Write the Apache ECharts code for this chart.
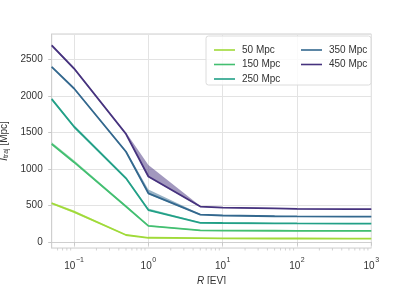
<!DOCTYPE html>
<html><head><meta charset="utf-8">
<script src="https://cdn.jsdelivr.net/npm/echarts@6/dist/echarts.min.js"></script>
<style>html,body{margin:0;padding:0;background:#fff}#c{width:413px;height:284px}</style>
</head><body><div id="c"></div>
<script>
// ---- data ----
const R = [0.05, 0.1, 0.5, 1, 5, 10, 50, 100, 500, 1000];
const names = ['50 Mpc', '150 Mpc', '250 Mpc', '350 Mpc', '450 Mpc'];
const mean50  = [533, 415, 98, 60, 54, 52, 50, 50, 49, 49];
const lo50    = [520, 400, 92, 56, 51, 49, 48, 48, 47, 47];
const hi50    = [548, 432, 106, 64, 56, 54, 52, 51, 51, 51];
const mean150 = [1343, 1095, 488, 223, 162, 158, 156, 155, 155, 154];
const lo150   = [1330, 1080, 478, 216, 156, 153, 152, 151, 151, 151];
const hi150   = [1368, 1122, 502, 232, 167, 162, 159, 157, 156, 156];
const mean250 = [1958, 1580, 874, 440, 265, 262, 258, 256, 255, 254];
const lo250   = [1945, 1565, 862, 432, 258, 256, 254, 252, 252, 252];
const hi250   = [1978, 1602, 892, 462, 273, 268, 262, 259, 257, 256];
const mean350 = [2399, 2104, 1238, 669, 377, 365, 355, 352, 350, 350];
const lo350   = [2390, 2095, 1225, 655, 370, 360, 350, 348, 347, 347];
const hi350   = [2410, 2115, 1255, 722, 386, 372, 360, 356, 353, 353];
const mean450 = [2695, 2377, 1480, 899, 487, 474, 462, 456, 452, 451];
const lo450   = [2680, 2365, 1470, 890, 480, 468, 458, 452, 449, 448];
const hi450   = [2710, 2395, 1500, 1055, 496, 481, 467, 460, 455, 454];
const yTicks = [0, 500, 1000, 1500, 2000, 2500];
const xMinorTicks = [0.06,0.07,0.08,0.09,0.2,0.3,0.4,0.5,0.6,0.7,0.8,0.9,2,3,4,5,6,7,8,9,20,30,40,50,60,70,80,90,200,300,400,500,600,700,800,900];

// ---- styling ----
const colors = ['#a0da39', '#43bf71', '#22a087', '#33688e', '#46327e'];
const bandColors = ['rgba(160,218,57,0.5)', 'rgba(67,191,113,0.5)', 'rgba(34,160,135,0.5)', 'rgba(51,104,142,0.5)', 'rgba(70,50,126,0.5)'];
const means = [mean50, mean150, mean250, mean350, mean450];
const los = [lo50, lo150, lo250, lo350, lo450];
const his = [hi50, hi150, hi250, hi350, hi450];
const Y_MIN = -80, Y_MAX = 2850;
const FONT = 'Liberation Sans';

const series = [];
for (let k = 0; k < 5; k++) {
  const lo = los[k], hi = his[k];
  series.push({
    type: 'custom', name: 'band' + k, z: 1, silent: true,
    data: [[R[0], lo[0]]],
    renderItem: function (params, api) {
      const pts = [];
      for (let i = 0; i < R.length; i++) pts.push(api.coord([R[i], hi[i]]));
      for (let i = R.length - 1; i >= 0; i--) pts.push(api.coord([R[i], lo[i]]));
      return { type: 'polygon', shape: { points: pts }, style: { fill: bandColors[k], stroke: null } };
    }
  });
}
for (let k = 0; k < 5; k++) {
  series.push({
    type: 'line', name: names[k], z: 3, symbol: 'none', showSymbol: false,
    color: colors[k],
    lineStyle: { width: 1.8, color: colors[k] },
    data: R.map((x, i) => [x, means[k][i]])
  });
}
// minor ticks on log x-axis
series.push({
  type: 'custom', name: 'minor', silent: true, z: 2, clip: false,
  data: xMinorTicks.map(v => [v, Y_MIN]),
  renderItem: function (params, api) {
    const p = api.coord([api.value(0), Y_MIN]);
    return { type: 'line', shape: { x1: p[0], y1: p[1], x2: p[0], y2: p[1] + 2.5 }, style: { stroke: '#c8c8c8', lineWidth: 0.8 } };
  }
});

const legendIcon = 'path://M0,4.2L21,4.2L21,5.8L0,5.8Z';
const chart = echarts.init(document.getElementById('c'), null, { renderer: 'canvas' });
chart.setOption({
  animation: false,
  backgroundColor: '#fff',
  textStyle: { fontFamily: FONT },
  grid: { left: 51.7, right: 41.7, top: 34, bottom: 36, show: true, borderColor: '#cfcfcf', borderWidth: 1, containLabel: false, outerBoundsMode: 'none' },
  xAxis: {
    type: 'log', logBase: 10, min: 0.05, max: 1000,
    axisLine: { show: true, lineStyle: { color: '#cfcfcf', width: 1 } },
    axisTick: { show: true, length: 3.5, lineStyle: { color: '#c8c8c8' } },
    splitLine: { show: true, lineStyle: { color: '#e3e3e3', width: 1 } },
    axisLabel: {
      showMinLabel: false, margin: 9, color: '#333',
      formatter: function (v) {
        const e = Math.round(Math.log10(v));
        return '{b|10}{s|' + (e < 0 ? '\u2212' + (-e) : e) + '}';
      },
      rich: {
        b: { fontSize: 10, fontFamily: FONT, color: '#333', verticalAlign: 'bottom', lineHeight: 14 },
        s: { fontSize: 7, fontFamily: FONT, color: '#333', verticalAlign: 'top', lineHeight: 14, padding: [0, 0, 0, 0.5] }
      }
    },
    name: '{i|R} [EV]', nameLocation: 'middle', nameGap: 23,
    nameTextStyle: {
      color: '#333', fontSize: 10, fontFamily: FONT,
      rich: { i: { fontStyle: 'italic', fontSize: 10, fontFamily: FONT, color: '#333' } }
    }
  },
  yAxis: {
    type: 'value', min: Y_MIN, max: Y_MAX, splitNumber: 6,
    axisLine: { show: true, lineStyle: { color: '#cfcfcf' } },
    axisTick: { show: true, length: 3.5, lineStyle: { color: '#c8c8c8' } },
    splitLine: { show: true, lineStyle: { color: '#e3e3e3' } },
    axisLabel: {
      showMinLabel: false, showMaxLabel: false, margin: 9, color: '#333', fontSize: 10, fontFamily: FONT,
      formatter: function (v) { return yTicks.indexOf(v) >= 0 ? String(v) : ''; }
    },
    name: '{i|l\u0304}{s|traj} [Mpc]', nameLocation: 'middle', nameRotate: 90, nameGap: 35,
    nameTextStyle: {
      color: '#333', fontSize: 10, fontFamily: FONT,
      rich: {
        i: { fontStyle: 'italic', fontSize: 10, fontFamily: 'DejaVu Sans', color: '#333' },
        s: { fontSize: 7, fontFamily: FONT, color: '#333', verticalAlign: 'bottom', lineHeight: 10 }
      }
    }
  },
  graphic: [{
    type: 'rect', z: 4, silent: true,
    shape: { x: 206, y: 36, width: 165, height: 49, r: 2.5 },
    style: { fill: 'rgba(255,255,255,0.8)', stroke: '#dcdcdc', lineWidth: 1 }
  }],
  legend: [
    { data: names.slice(0, 3), orient: 'vertical', left: 209, top: 40, itemWidth: 21, itemHeight: 10, itemGap: 4.5, z: 5,
      textStyle: { fontSize: 10, fontFamily: FONT, color: '#333', padding: [0, 0, 0, 2] }, icon: legendIcon },
    { data: names.slice(3), orient: 'vertical', left: 296, top: 40, itemWidth: 21, itemHeight: 10, itemGap: 4.5, z: 5,
      textStyle: { fontSize: 10, fontFamily: FONT, color: '#333', padding: [0, 0, 0, 2] }, icon: legendIcon }
  ],
  series: series
});
</script>
</body></html>
